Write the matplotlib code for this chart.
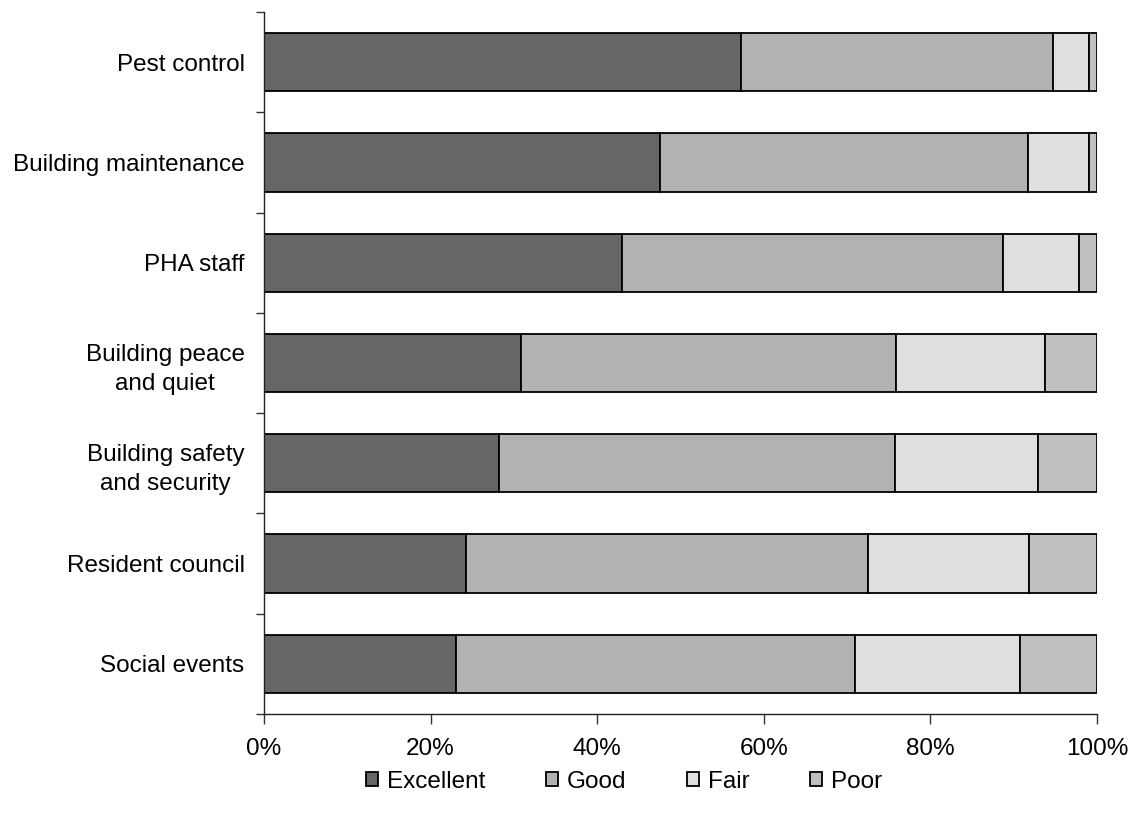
import numpy as np
import matplotlib.pyplot as plt
from matplotlib.ticker import FixedLocator, PercentFormatter

plt.rcParams['font.family'] = ['Liberation Sans', 'DejaVu Sans']

# Datos (de arriba hacia abajo)
categorias = ['Pest control', 'Building maintenance', 'PHA staff',
              'Building peace\nand quiet', 'Building safety\nand security',
              'Resident council', 'Social events']
excelente = [57.3, 47.5, 43.0, 30.9, 28.2, 24.2, 23.0]
bueno = [37.4, 44.2, 45.7, 45.0, 47.5, 48.3, 47.9]
regular = [4.3, 7.3, 9.1, 17.9, 17.2, 19.3, 19.9]
malo = [1.0, 1.0, 2.2, 6.2, 7.1, 8.2, 9.2]

series = [('Excellent', excelente, '#666666'),
          ('Good', bueno, '#b2b2b2'),
          ('Fair', regular, '#dfdfdf'),
          ('Poor', malo, '#c0c0c0')]

fig = plt.figure(figsize=(11.31, 8.19), dpi=100)
ax = fig.add_axes([264 / 1131, 1 - 714 / 819, (1097 - 264) / 1131, (714 - 12) / 819])

y = np.arange(len(categorias))
izquierda = np.zeros(len(categorias))
for nombre, valores, color in series:
    ax.barh(y, valores, left=izquierda, height=0.58, color=color,
            edgecolor='black', linewidth=1.3, label=nombre)
    izquierda += np.array(valores)

ax.set_xlim(0, 100)
ax.set_ylim(len(categorias) - 0.5, -0.5)
ax.set_xticks([0, 20, 40, 60, 80, 100])
ax.xaxis.set_major_formatter(PercentFormatter(decimals=0))
ax.set_yticks(y)
ax.set_yticklabels(categorias)
ax.yaxis.set_minor_locator(FixedLocator(np.arange(-0.5, len(categorias), 1)))
for lab in ax.get_yticklabels():
    lab.set_multialignment('center')
    lab.set_linespacing(1.45)

ax.tick_params(axis='y', which='major', length=0, pad=14, labelsize=17.5)
ax.tick_params(axis='y', which='minor', length=6, width=1, color='#333333', direction='out')
ax.tick_params(axis='x', length=7, width=1, color='#333333', direction='out', pad=10, labelsize=17.5)

for lado in ['top', 'right']:
    ax.spines[lado].set_visible(False)
for lado in ['left', 'bottom']:
    ax.spines[lado].set_color('#222222')
    ax.spines[lado].set_linewidth(1)

fig.legend(loc='center', bbox_to_anchor=(624 / 1131, 1 - 782 / 819), ncol=4, frameon=False,
           fontsize=17.5, handlelength=0.5, handleheight=0.5, handletextpad=0.35,
           columnspacing=2.5)

fig.savefig('out.png', dpi=100)
